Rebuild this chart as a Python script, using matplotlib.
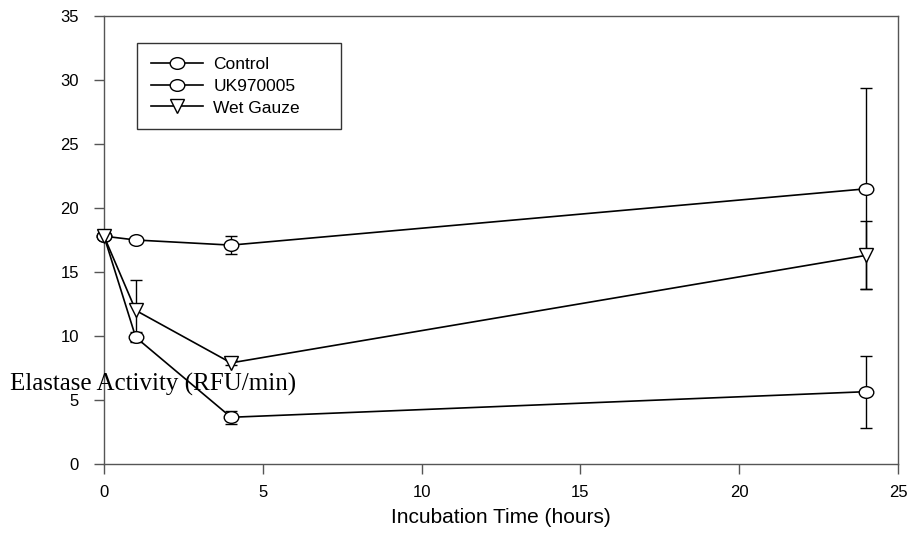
import matplotlib.pyplot as plt
from matplotlib.path import Path
from matplotlib.transforms import Affine2D

# time points (hours)
hours = [0, 1, 4, 24]

# mean elastase activity and error for each treatment
control = [17.8, 17.5, 17.1, 21.5]
control_err = [0, 0, 0.7, 7.85]
uk970005 = [17.8, 9.9, 3.65, 5.65]
uk970005_err = [0, 0.4, 0.5, 2.8]
wet_gauze = [17.8, 12.0, 7.9, 16.3]
wet_gauze_err = [0, 2.4, 0.2, 2.65]

labels = ['Control', 'UK970005', 'Wet Gauze']

# slightly flattened circle, like the original markers
ellipse = Path.unit_circle().transformed(Affine2D().scale(1.25, 1.0))

plt.rcParams['font.family'] = ['Liberation Sans', 'DejaVu Sans']

fig = plt.figure(figsize=(9.1, 5.35), dpi=100)
ax = fig.add_axes([104 / 910, 1 - 464 / 535, 794 / 910, 448 / 535])

series = [
    (control, control_err, ellipse, labels[0]),
    (uk970005, uk970005_err, ellipse, labels[1]),
    (wet_gauze, wet_gauze_err, 'v', labels[2]),
]
for vals, errs, mk, lab in series:
    ax.errorbar(hours, vals, yerr=errs, color='black', lw=1.2, elinewidth=1.0,
                capsize=4.5, capthick=1.0, marker=mk, markersize=10.5 if mk is ellipse else 10,
                markerfacecolor='white', markeredgecolor='black', markeredgewidth=1.0,
                label=lab, clip_on=False, zorder=3)

ax.set_xlim(0, 25)
ax.set_ylim(0, 35)
ax.set_xticks(range(0, 26, 5))
ax.set_yticks(range(0, 36, 5))

for s in ax.spines.values():
    s.set_color('#555555')
    s.set_linewidth(1.0)
ax.tick_params(direction='out', length=7, width=1.0, color='#555555', labelsize=12)
ax.tick_params(axis='x', pad=8)
ax.tick_params(axis='y', pad=11)

ax.set_xlabel('Incubation Time (hours)', fontsize=15, labelpad=6)

# y label sits horizontally across the plot in the original
fig.text(10 / 910, 1 - 384 / 535, 'Elastase Activity (RFU/min)', fontsize=18,
         family='Liberation Serif', va='center', ha='left')

handles, labs = ax.get_legend_handles_labels()
handles = [h[0] for h in handles]
box_x0 = 33 / 794
box_w = 204 / 794
box_top = 1 - 27 / 448
leg = ax.legend(handles, labs, loc='upper left', mode='expand',
                bbox_to_anchor=(box_x0, box_top - 0.2, box_w, 0.2),
                fancybox=False, edgecolor='#333333', framealpha=1, fontsize=12.5,
                handlelength=3.0, handletextpad=0.6, borderpad=0.8, labelspacing=0.38,
                borderaxespad=0)
leg.get_frame().set_linewidth(1.0)

fig.savefig('out.png', dpi=100)
